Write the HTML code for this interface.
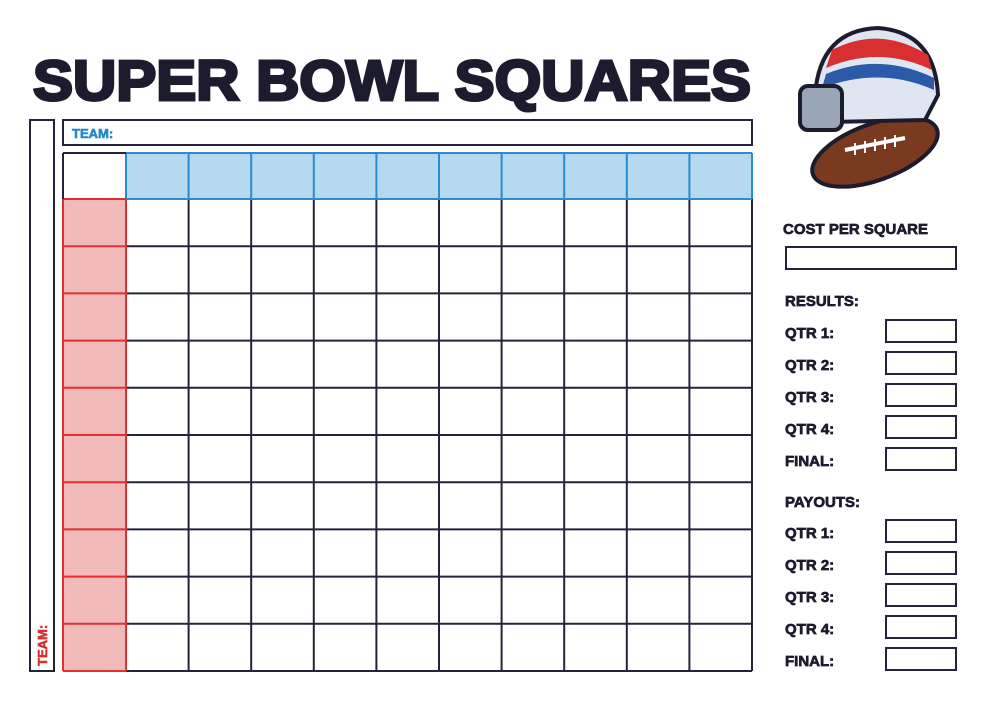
<!DOCTYPE html>
<html><head><meta charset="utf-8"><style>html,body{margin:0;padding:0;background:#fff}svg{display:block}</style></head>
<body>
<svg width="984" height="712" viewBox="0 0 984 712" xmlns="http://www.w3.org/2000/svg" font-family="Liberation Sans, sans-serif">
<rect width="984" height="712" fill="#fff"/>
<text x="33" y="100" font-size="57" font-weight="bold" fill="#1c1c2e" stroke="#1c1c2e" stroke-width="3" textLength="718" lengthAdjust="spacingAndGlyphs">SUPER BOWL SQUARES</text>
<!-- helmet -->
<g>
<ellipse cx="875" cy="152" rx="66" ry="28" fill="#7a3a20" stroke="#1c1c2e" stroke-width="4" transform="rotate(-20 875 152)"/>
<path d="M815 95 Q820 30 878 28 Q935 32 938 95 L925 120 L830 122 Z" fill="#dfe6f2" stroke="#1c1c2e" stroke-width="4"/>
<path d="M832 50 Q880 25 928 55 L932 70 Q880 45 826 68 Z" fill="#d83030"/>
<path d="M826 74 Q880 52 934 78 L934 90 Q880 66 822 88 Z" fill="#2a5aa8"/>
<rect x="800" y="86" width="42" height="44" rx="8" fill="#9aa6b8" stroke="#1c1c2e" stroke-width="4"/>
<path d="M845 150 L905 138" stroke="#fff" stroke-width="4"/>
<path d="M855 143 v12 M865 141 v12 M875 139 v12 M885 137 v12 M895 135 v12" stroke="#fff" stroke-width="2"/>
</g>
<g fill="none" stroke="#23233a" stroke-width="2">
<rect x="30" y="120" width="24" height="551"/>
<rect x="63" y="120" width="689" height="25"/>
</g>
<text x="72" y="138" font-size="13" font-weight="bold" fill="#1f8ac8" stroke="#1f8ac8" stroke-width="0.6">TEAM:</text>
<text transform="translate(47,666) rotate(-90)" font-size="13" font-weight="bold" fill="#d83030" stroke="#d83030" stroke-width="0.6">TEAM:</text>
<rect x="126" y="153" width="626" height="46" fill="#b5d9ee"/>
<rect x="63" y="199" width="63" height="472" fill="#f2b9b9"/>
<g id="grid"></g>
<g font-size="15" font-weight="bold" fill="#1c1c2e" stroke="#1c1c2e" stroke-width="0.7">
<text x="783" y="234">COST PER SQUARE</text>
<text x="785" y="306">RESULTS:</text>
<text x="785" y="338">QTR 1:</text>
<text x="785" y="370">QTR 2:</text>
<text x="785" y="402">QTR 3:</text>
<text x="785" y="434">QTR 4:</text>
<text x="785" y="466">FINAL:</text>
<text x="785" y="507">PAYOUTS:</text>
<text x="785" y="538">QTR 1:</text>
<text x="785" y="570">QTR 2:</text>
<text x="785" y="602">QTR 3:</text>
<text x="785" y="634">QTR 4:</text>
<text x="785" y="666">FINAL:</text>
</g>
<g fill="none" stroke="#23233a" stroke-width="2">
<rect x="786" y="247" width="170" height="22"/>
<rect x="886" y="320" width="70" height="22"/>
<rect x="886" y="352" width="70" height="22"/>
<rect x="886" y="384" width="70" height="22"/>
<rect x="886" y="416" width="70" height="22"/>
<rect x="886" y="448" width="70" height="22"/>
<rect x="886" y="520" width="70" height="22"/>
<rect x="886" y="552" width="70" height="22"/>
<rect x="886" y="584" width="70" height="22"/>
<rect x="886" y="616" width="70" height="22"/>
<rect x="886" y="648" width="70" height="22"/>
</g>
<script>
(function(){
var g=document.getElementById('grid'),ns='http://www.w3.org/2000/svg';
function L(x1,y1,x2,y2,c){var l=document.createElementNS(ns,'line');l.setAttribute('x1',x1);l.setAttribute('y1',y1);l.setAttribute('x2',x2);l.setAttribute('y2',y2);l.setAttribute('stroke',c);l.setAttribute('stroke-width',2);g.appendChild(l);}
var dk='#23233a',bl='#2a8ccc',rd='#e03030';
var cw=62.6,rh=47.2;
for(var i=0;i<=10;i++){var x=126+i*cw;L(x,199,x,671,dk);}
for(var j=0;j<=10;j++){var y=199+j*rh;L(126,y,752,y,dk);}
for(var i=0;i<=10;i++){var x=126+i*cw;L(x,153,x,199,bl);}
L(126,153,752,153,bl);L(126,199,752,199,bl);
for(var j=0;j<=10;j++){var y=199+j*rh;L(63,y,126,y,rd);}
L(63,199,63,671,rd);L(126,199,126,671,rd);
L(63,153,126,153,dk);L(63,153,63,199,dk);
})();
</script>
</svg>
</body></html>
